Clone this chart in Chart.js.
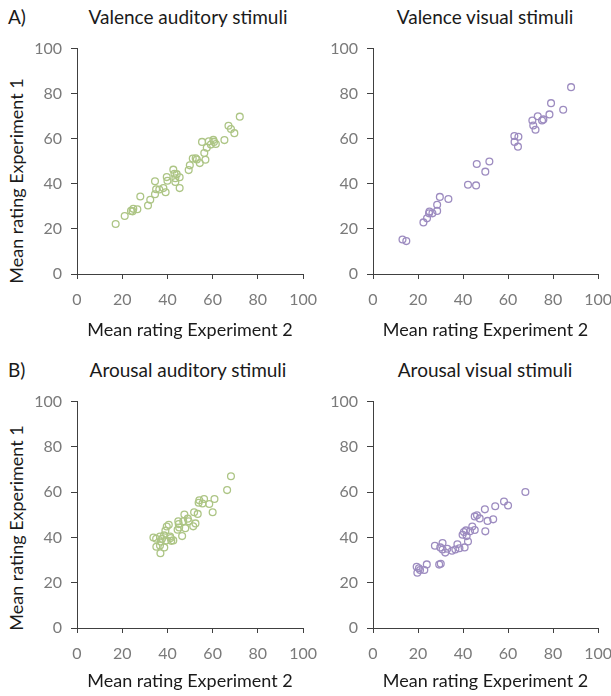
<!DOCTYPE html>
<html>
<head>
<meta charset="utf-8">
<script src="https://cdn.jsdelivr.net/npm/chart.js@4/dist/chart.umd.min.js"></script>
<style>
  body { margin: 0; background: #fff; font-family: Lato, sans-serif; }
  #wrap { position: relative; width: 611px; height: 696px; overflow: hidden; }
  canvas { position: absolute; }
  .lbl { position: absolute; color: #1a1a1a; white-space: nowrap; font-size: 19px; line-height: 20px; }
  .titulo { transform: translateX(-50%); }
  .ytitle { font-size: 18px; transform: translate(-50%, -50%) rotate(-90deg); }
</style>
</head>
<body>
<div id="wrap">
  <div class="lbl" style="left:8px;top:7px;">A)</div>
  <div class="lbl titulo" style="left:188px;top:7px;">Valence auditory stimuli</div>
  <div class="lbl titulo" style="left:485px;top:7px;">Valence visual stimuli</div>
  <div class="lbl" style="left:8px;top:360px;">B)</div>
  <div class="lbl titulo" style="left:188px;top:360px;">Arousal auditory stimuli</div>
  <div class="lbl titulo" style="left:485px;top:360px;">Arousal visual stimuli</div>
  <div class="lbl ytitle" style="left:16px;top:181px;">Mean rating Experiment 1</div>
  <div class="lbl ytitle" style="left:16px;top:528px;">Mean rating Experiment 1</div>

  <canvas id="valAud" width="308" height="311" style="left:20px;top:30px;"></canvas>
  <canvas id="valVis" width="307" height="311" style="left:316px;top:30px;"></canvas>
  <canvas id="aroAud" width="308" height="309" style="left:20px;top:383px;"></canvas>
  <canvas id="aroVis" width="307" height="309" style="left:316px;top:383px;"></canvas>
</div>
<script>
const valenceAudX = [17.1,21.1,23.9,24.9,24.6,26.7,28,31.4,32.4,34.5,34.5,35,36.4,38.2,39.2,39.7,40,42.6,43.1,43.5,43.5,44.1,45.4,45.4,49.4,49.9,51.2,52.5,53,54.3,55.3,56.3,56.8,57.4,58.3,59.2,60.3,60.6,61.4,65.2,67,68.1,69.6,72];
const valenceAudY = [22.2,25.7,28,28.9,27.8,28.7,34.4,30.4,32.9,35.4,41.1,37.6,37.5,38.1,36.3,43,41.4,46.3,44.5,42.5,40.8,44.3,42.9,38.1,46.1,48.2,51.2,51.3,50.8,49.2,58.6,53.7,50.7,56,58.9,57.4,59.5,58.6,57.7,59.4,65.8,64.3,62.5,69.8];

const valenceVisX = [13.1,14.8,22.4,24,24.9,25.1,26.4,28.5,28.5,29.7,33.5,42.2,45.8,46.1,49.9,51.7,62.8,64.6,62.9,64.4,70.8,71.2,72.2,73.2,75.1,75.7,78.4,79.1,84.5,88];
const valenceVisY = [15.3,14.6,22.9,24.7,26.9,27.7,26.9,28,30.7,34.2,33.3,39.6,39.3,48.8,45.4,49.9,61.2,60.9,58.6,56.5,68.1,65.9,64,70,68.1,68.6,70.8,75.8,72.9,82.9];

const arousalAudX = [68.1,66.4,60.8,60,58.5,56.2,55.5,54.1,53.8,53.4,51.8,52.4,51.4,47.5,49,49.4,47,47.9,46.5,44.8,45,44.5,45.2,42.6,41.4,40.6,39.7,39.1,38.5,39.4,37.6,37,36.7,35,33.8,35.1,36.7,38.6,36.9,41.7,41.2];
const arousalAudY = [67,60.9,57,51.1,54.8,57,55,56.4,55.3,50.4,51.1,46.2,44.9,50.1,48.3,47.1,47.1,44.1,40.6,47.1,45.9,43.4,44.4,38.7,39.7,45.6,44.8,43,40.9,38.7,39.4,38.2,40.4,39.4,40,35.9,36.4,35.6,33,38.5,40.4];

const arousalVisX = [67.7,58.2,60,54.3,49.7,53.4,50.9,49.9,45.2,46.2,47.4,44.1,45.2,43.1,41.3,40.4,39.8,41.6,42.2,40.7,37.5,38.4,36.6,35.1,33,32.1,30.9,29.9,30.9,27.5,30.1,29.4,23.9,22.8,20.4,19.4,19.7,20.9];
const arousalVisY = [60.1,55.9,54.1,53.8,52.4,48,47.3,42.7,49.3,49.8,48.4,44.8,43.3,42.7,43.1,42.4,41.2,40.6,38.2,35.6,37,35.2,34.7,34.1,35,33.3,37.5,35.6,34.7,36.3,28.4,28,28.1,25.6,26.4,27,24.4,25.6];

const ticksEixo = [0, 20, 40, 60, 80, 100];

const corVerde = '#adc585';
const corRoxa = '#9d8cc0';

function montarPontos(xs, ys) {
  return xs.map((x, i) => ({ x: x, y: ys[i] }));
}

function criarPainel(id, xs, ys, cor, alturaX) {
  const ctx = document.getElementById(id).getContext('2d');
  return new Chart(ctx, {
    type: 'scatter',
    data: {
      datasets: [{
        data: montarPontos(xs, ys),
        borderColor: cor,
        backgroundColor: 'rgba(255,255,255,0)',
        pointRadius: 3.4,
        pointBorderWidth: 1.3,
        clip: false
      }]
    },
    options: {
      responsive: false,
      animation: false,
      layout: { padding: { top: 18, right: 16, bottom: 0, left: 0 } },
      plugins: { legend: { display: false }, tooltip: { enabled: false } },
      scales: {
        x: {
          type: 'linear', min: 0, max: 100,
          afterBuildTicks: s => { s.ticks = ticksEixo.map(v => ({ value: v })); },
          afterFit: s => { s.height = alturaX; },
          border: { color: '#404040', width: 1 },
          grid: { drawOnChartArea: false, tickLength: 5, color: '#404040' },
          ticks: { color: '#7a7a7a', padding: 11, font: { family: 'Lato', size: 16 } },
          title: {
            display: true, text: 'Mean rating Experiment 2', color: '#1a1a1a',
            padding: 0, font: { family: 'Lato', size: 18 }
          }
        },
        y: {
          type: 'linear', min: 0, max: 100,
          afterBuildTicks: s => { s.ticks = ticksEixo.map(v => ({ value: v })); },
          afterFit: s => { s.width = 57; },
          border: { color: '#404040', width: 1 },
          grid: { drawOnChartArea: false, tickLength: 6, color: '#404040' },
          ticks: { color: '#7a7a7a', padding: 9, font: { family: 'Lato', size: 16 } }
        }
      }
    }
  });
}

criarPainel('valAud', valenceAudX, valenceAudY, corVerde, 67);
criarPainel('valVis', valenceVisX, valenceVisY, corRoxa, 67);
criarPainel('aroAud', arousalAudX, arousalAudY, corVerde, 64);
criarPainel('aroVis', arousalVisX, arousalVisY, corRoxa, 64);
</script>
</body>
</html>
